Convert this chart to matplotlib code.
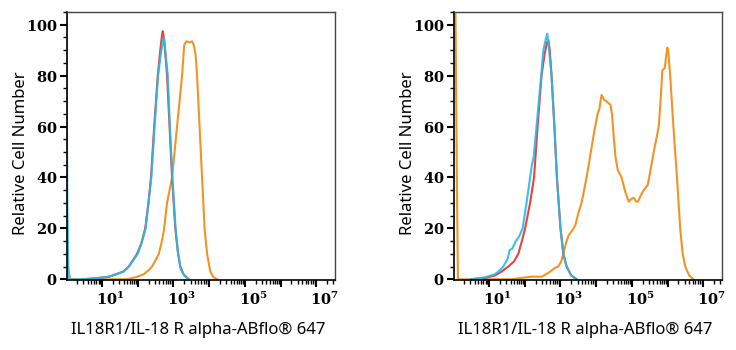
import numpy as np
import matplotlib
matplotlib.use("Agg")
import matplotlib.pyplot as plt
from matplotlib.ticker import FixedLocator, FixedFormatter, LogLocator, MultipleLocator, NullFormatter
from matplotlib.transforms import ScaledTranslation

# fontes: rótulos dos ticks em serifa negrito, títulos dos eixos em sans
plt.rcParams['mathtext.fontset'] = 'custom'
plt.rcParams['mathtext.rm'] = 'DejaVu Serif:bold'
plt.rcParams['mathtext.it'] = 'DejaVu Serif:bold'
plt.rcParams['mathtext.bf'] = 'DejaVu Serif:bold'

# --- dados (x em log10 da intensidade, y em % relativo) ---
# painel esquerdo
red_l_x = [0.45, 0.9, 1.2, 1.4, 1.6, 1.75, 1.89, 1.98, 2.1, 2.21, 2.3, 2.37, 2.46, 2.56, 2.63, 2.68, 2.70, 2.74,
           2.82, 2.89, 2.96, 3.05, 3.12, 3.19, 3.28, 3.42]
red_l_y = [0, 0.5, 1, 2, 3, 5, 8, 10, 14, 20, 30, 40, 60, 80, 90, 96, 97.5, 94,
           80, 60, 40, 20, 11, 5, 2, 0]

cyan_l_x = [0.0, 0.03, 0.06, 0.5, 0.9, 1.2, 1.4, 1.6, 1.75, 1.9, 2.0, 2.1, 2.22, 2.3, 2.38, 2.47, 2.57, 2.64,
            2.70, 2.73, 2.77, 2.84, 2.90, 2.97, 3.06, 3.13, 3.2, 3.3, 3.42]
cyan_l_y = [106, 30, 0, 0, 0.5, 1, 2, 3, 5, 8, 10, 14, 20, 30, 40, 60, 80, 88,
            93, 95, 90, 80, 60, 40, 20, 10, 4, 1.5, 0]

orange_l_x = [0.0, 0.04, 0.08, 0.12, 1.7, 1.95, 2.17, 2.3, 2.4, 2.5, 2.59, 2.66, 2.73, 2.82, 2.96, 3.10,
              3.24, 3.30, 3.36, 3.45, 3.52, 3.57, 3.62, 3.66, 3.73, 3.80, 3.87, 3.94, 4.03, 4.12, 4.22]
orange_l_y = [8, 6, 2, 0, 0, 0.8, 2, 3.5, 5, 7.5, 10, 14, 19, 30, 40, 60,
              80, 92, 93.5, 93, 93.5, 92, 88, 80, 60, 40, 20, 10, 3, 0.8, 0]

# painel direito
red_r_x = [0.5, 0.9, 1.17, 1.35, 1.54, 1.7, 1.82, 1.92, 2.01, 2.15, 2.26, 2.36, 2.47, 2.55, 2.62, 2.66, 2.70,
           2.75, 2.83, 2.90, 3.0, 3.08, 3.17, 3.3, 3.45]
red_r_y = [0, 0.5, 1.5, 3, 5, 7, 10, 15, 20, 30, 40, 60, 80, 88, 93, 94, 90,
           80, 60, 40, 20, 10, 5, 1.5, 0]

cyan_r_x = [0.5, 0.9, 1.17, 1.30, 1.40, 1.52, 1.58, 1.65, 1.75, 1.85, 1.94, 2.05, 2.15, 2.2, 2.25, 2.33, 2.46,
            2.52, 2.60, 2.63, 2.68, 2.75, 2.83, 2.90, 3.0, 3.08, 3.17, 3.3, 3.45]
cyan_r_y = [0, 0.8, 2, 3.5, 5, 8, 11.5, 12, 15, 17, 20, 30, 40, 45, 48, 60, 80,
            90, 95, 96.5, 90, 80, 60, 40, 20, 10, 5, 1.5, 0]

orange_r_x = [0.0, 0.06, 0.1, 0.13, 1.63, 1.9, 2.19, 2.47, 2.6, 2.71, 2.85, 2.94, 3.02, 3.08, 3.15, 3.22,
              3.32, 3.41, 3.5, 3.59, 3.66, 3.73, 3.79, 3.85, 3.92, 3.97, 4.04, 4.09, 4.12, 4.15, 4.22, 4.28,
              4.40, 4.44, 4.49, 4.54, 4.60, 4.71, 4.82, 4.91, 4.98, 5.05, 5.12, 5.17, 5.25, 5.33, 5.44, 5.52,
              5.61, 5.68, 5.75, 5.80, 5.85, 5.88, 5.92, 5.96, 5.99, 6.02, 6.07, 6.16, 6.26, 6.35, 6.42, 6.49,
              6.6, 6.72]
orange_r_y = [106, 106, 40, 0, 0, 0.5, 1, 1, 2, 3, 4.5, 5, 7, 10, 14, 17,
              19, 21, 26, 30, 35, 40, 45, 50, 56, 60, 65, 67, 70, 72.4, 70.5, 70,
              68.5, 65, 56, 48, 43, 40, 34, 30.5, 31.5, 32, 30.5, 30.5, 33, 35, 37, 43,
              50, 55, 60, 70, 82, 82.5, 83, 88, 91, 89, 80, 60, 40, 20, 10, 5,
              1.5, 0]

x_label = 'IL18R1/IL-18 R alpha-ABflo® 647'
y_label = 'Relative Cell Number'
decadas = [1, 2, 3, 4, 5, 6, 7]
rotulos = ['$10^{1}$', '', '$10^{3}$', '', '$10^{5}$', '', '$10^{7}$']

cor_red = '#e8433d'
cor_cyan = '#25b9e9'
cor_orange = '#f39325'

paineis = [
    (red_l_x, red_l_y, cyan_l_x, cyan_l_y, orange_l_x, orange_l_y),
    (red_r_x, red_r_y, cyan_r_x, cyan_r_y, orange_r_x, orange_r_y),
]

fig = plt.figure(figsize=(7.36, 3.5), dpi=100)
posicoes = [[67 / 736, 70 / 350, 268 / 736, 268 / 350],
            [454 / 736, 70 / 350, 268 / 736, 268 / 350]]

for pos, (rx, ry, cx, cy, ox, oy) in zip(posicoes, paineis):
    ax = fig.add_axes(pos)
    # ordem: laranja, vermelho, ciano por cima
    ax.plot(10 ** np.array(ox), oy, color=cor_orange, lw=1.5)
    ax.plot(10 ** np.array(rx), ry, color=cor_red, lw=1.5)
    ax.plot(10 ** np.array(cx), cy, color=cor_cyan, lw=1.5, alpha=0.9)

    ax.set_xscale('log')
    ax.set_xlim(10 ** 0.02, 10 ** 7.52)
    ax.set_ylim(-0.3, 105)

    ax.xaxis.set_major_locator(FixedLocator([10.0 ** d for d in decadas]))
    ax.xaxis.set_major_formatter(FixedFormatter(rotulos))
    ax.xaxis.set_minor_locator(LogLocator(base=10, subs=np.arange(2, 10), numticks=20))
    ax.xaxis.set_minor_formatter(NullFormatter())
    ax.yaxis.set_major_locator(MultipleLocator(20))
    ax.yaxis.set_minor_locator(MultipleLocator(5))

    ax.tick_params(axis='both', which='major', length=5, width=1.5, labelsize=10.5, color='black')
    ax.tick_params(axis='both', which='minor', length=3, width=1, color='black')
    ax.tick_params(axis='x', which='major', pad=3)
    ax.tick_params(axis='y', which='major', pad=2)
    ax.set_yticks([0, 20, 40, 60, 80, 100])
    ax.set_yticklabels(['$0$', '$20$', '$40$', '$60$', '$80$', '$100$'])

    # desloca os rótulos de x um pouco para a direita, como no original
    desloc = ScaledTranslation(8 / 100, 0, fig.dpi_scale_trans)
    for lab in ax.get_xticklabels():
        lab.set_transform(lab.get_transform() + desloc)

    for lado in ['top', 'right']:
        ax.spines[lado].set_color('#444444')
        ax.spines[lado].set_linewidth(1.0)
    for lado in ['bottom', 'left']:
        ax.spines[lado].set_color('black')
        ax.spines[lado].set_linewidth(1.2)

    ax.set_xlabel(x_label, family='Noto Sans', fontsize=12)
    ax.set_ylabel(y_label, family='Noto Sans', fontsize=12)
    ax.xaxis.set_label_coords(0.49, -0.155)
    ax.yaxis.set_label_coords(-0.143, 0.475)

fig.savefig('out.png', dpi=100)
